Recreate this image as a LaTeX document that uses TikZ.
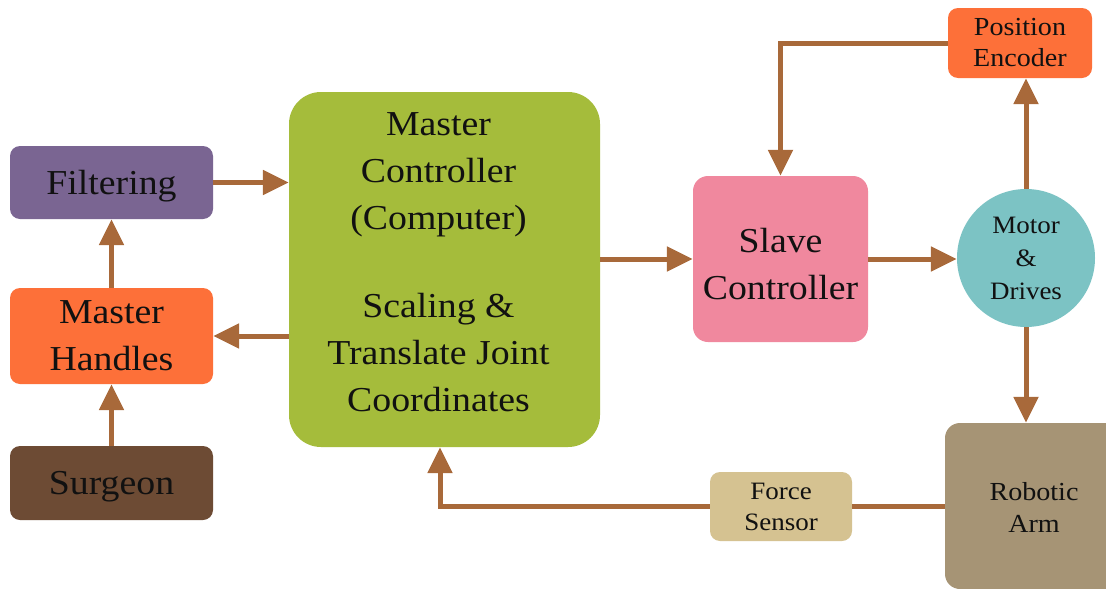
\documentclass[tikz,border=0pt]{standalone}
\usepackage{fontspec}
\setmainfont[FakeStretch=1.08]{Liberation Serif}
\usetikzlibrary{arrows.meta}
\definecolor{arrowc}{HTML}{A8693A}
\definecolor{cfilter}{HTML}{7A6592}
\definecolor{corange}{HTML}{FD7039}
\definecolor{csurgeon}{HTML}{6D4B34}
\definecolor{cgreen}{HTML}{A5BC3B}
\definecolor{cpink}{HTML}{F0889E}
\definecolor{cteal}{HTML}{7CC3C4}
\definecolor{carm}{HTML}{A69475}
\definecolor{cforce}{HTML}{D5C291}
\definecolor{ctext}{HTML}{111111}
\begin{document}
\begin{tikzpicture}[x=1pt,y=-1pt,
  box/.style={rounded corners=10pt, inner sep=0pt, align=center, text=ctext},
  big/.style={font=\fontsize{35}{47}\selectfont},
  small/.style={font=\fontsize{26}{31}\selectfont},
  arr/.style={draw=arrowc, line width=5pt, -{Triangle[length=26pt,width=24pt]}},
  link/.style={draw=arrowc, line width=5pt}]
\useasboundingbox (0,0) rectangle (1106,589);
\fill[white] (0,0) rectangle (1106,589);

\node[box, big, fill=cfilter, minimum width=203pt, minimum height=73pt, text depth=0pt] (filter) at (111.5,182.5) {Filtering};
\node[box, big, fill=corange, minimum width=203pt, minimum height=96pt] (handles) at (111.5,336) {Master\\Handles};
\node[box, big, fill=csurgeon, minimum width=203pt, minimum height=74pt, text depth=0pt] (surgeon) at (111.5,483) {Surgeon};
\node[box, fill=cgreen, rounded corners=32pt, minimum width=311pt, minimum height=355pt] (master) at (444.5,269.5) {};
\node[big, align=center, text=ctext, inner sep=0pt] (mastertext) at ([shift={(-6,-7)}]master.center)
  {Master\\Controller\\(Computer)\\[41pt]Scaling \&\\Translate Joint\\Coordinates};
\node[box, fill=cpink, rounded corners=15pt, minimum width=175pt, minimum height=166pt] (slave) at (780.5,259) {};
\node[big, align=center, text=ctext, inner sep=0pt] (slavetext) at ([yshift=-5pt]slave.center) {Slave\\Controller};
\node[circle, fill=cteal, inner sep=0pt, minimum size=138pt, align=center, text=ctext,
  font=\fontsize{25}{33}\selectfont] (motor) at (1026,258) {Motor\\\&\\Drives};
\node[box, small, fill=corange, minimum width=144pt, minimum height=70pt] (encoder) at (1020,43) {Position\\Encoder};
\node[box, fill=carm, rounded corners=15pt, minimum width=178pt, minimum height=166pt] (arm) at (1034,506) {};
\node[align=center, text=ctext, inner sep=0pt, font=\fontsize{26}{32}\selectfont] (armtext) at (1034,507) {Robotic\\Arm};
\node[box, fill=cforce, minimum width=142pt, minimum height=69pt, font=\fontsize{25}{31}\selectfont] (force) at (781,506.5) {Force\\Sensor};

\draw[arr] (surgeon.north) -- (handles.south);
\draw[arr] (handles.north) -- (filter.south);
\draw[arr] (filter.east) -- (master.west |- filter.east);
\draw[arr] (master.west |- handles.east) -- (handles.east);
\draw[arr] (master.east |- slave.west) -- (slave.west);
\draw[arr] (slave.east) -- (motor.west |- slave.east);
\draw[arr] (motor.north) -- (encoder.south -| motor.north);
\draw[arr] (encoder.west) -| (slave.north);
\draw[arr] (motor.south) -- (motor.south |- arm.north);
\draw[link] (arm.west |- force.east) -- (force.east);
\draw[arr] (force.west) -| ([xshift=-4.5pt]master.south);
\end{tikzpicture}
\end{document}
